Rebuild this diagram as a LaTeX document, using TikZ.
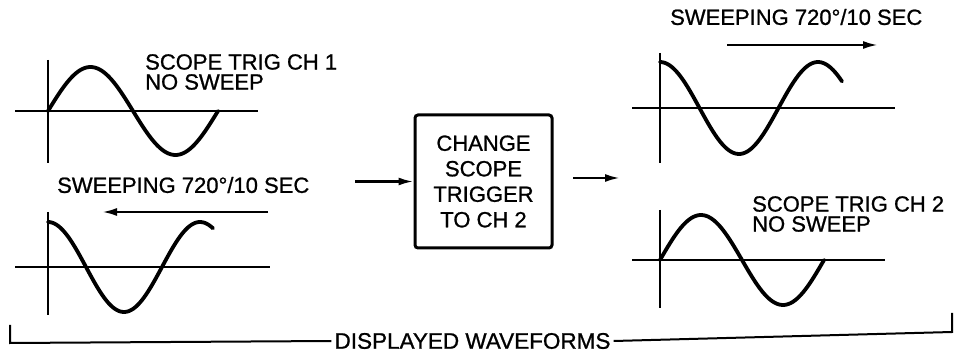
\documentclass[tikz,border=0pt]{standalone}
\usepackage{fontspec}
\setmainfont{Liberation Sans}
\newfontfamily\labelfont{Liberation Sans}[FakeBold=0.9]
\usetikzlibrary{positioning}
\usetikzlibrary{arrows.meta}

\begin{document}
\begin{tikzpicture}[x=1pt, y=-1pt, every node/.style={font=\labelfont\fontsize{22}{20}\selectfont, inner sep=0pt},
    axis/.style={line width=1.6pt},
    wave/.style={line width=3.8pt, line cap=round},
    flow/.style={line width=2.4pt, -{Latex[length=15pt,width=8pt]}}]
            \useasboundingbox (0,0) rectangle (956,355);
            % left: trig ch 1, then sweeping
            \draw[axis] (48,60) -- (48,163) (15,111) -- (258,111);
            \draw[wave] plot[domain=0:170, samples=80, smooth] ({48+\x},{111-44*sin(\x/170*360)});
            \node[anchor=west, align=left] (trig1) at (145,72) {SCOPE TRIG CH 1\\NO SWEEP};
            \draw[axis] (48,212) -- (48,315) (15,267) -- (270,267);
            \draw[wave] plot[domain=0:165, samples=80, smooth] ({48+\x},{267-45*cos(\x/152*360)});
            \node[anchor=west] (sweep1) at (57,185) {SWEEPING 720°/10 SEC};
            \coordinate (s1a) at (268,212);
            \coordinate (s1b) at (102,212);
            \draw[flow] (s1a) -- (s1b);
            % middle box
            \node[draw, line width=3pt, rounded corners=3pt, minimum width=137pt, minimum height=133pt, align=center,
                  font=\labelfont\fontsize{22}{25.5}\selectfont] (chg) at (483.5,181.5) {CHANGE\\SCOPE\\TRIGGER\\TO CH 2};
            \coordinate (in) at (355,181.5);
            \coordinate (outa) at (573,178);
            \coordinate (outb) at (620,178);
            \draw[flow] (in) -- (chg.west);
            \draw[flow] (outa) -- (outb);
            % right: sweeping, then trig ch 2
            \node[anchor=west] (sweep2) at (670,17) {SWEEPING 720°/10 SEC};
            \coordinate (s2a) at (727,45);
            \coordinate (s2b) at (878,45);
            \draw[flow] (s2a) -- (s2b);
            \draw[axis] (660,53) -- (660,163) (632,108) -- (895,108);
            \draw[wave] plot[domain=0:182, samples=80, smooth] ({660+\x},{108-46*cos(\x/158*360)});
            \draw[axis] (660,210) -- (660,308) (632,260) -- (885,260);
            \draw[wave] plot[domain=0:164, samples=80, smooth] ({660+\x},{260-45*sin(\x/164*360)});
            \node[anchor=west, align=left] (trig2) at (752,214) {SCOPE TRIG CH 2\\NO SWEEP};
            % bracket
            \node[inner xsep=3pt, font=\labelfont\fontsize{22.5}{26}\selectfont] (disp) at (472.5,341) {DISPLAYED WAVEFORMS};
            \coordinate (bl) at (10,325);
            \coordinate (blc) at (10,343);
            \coordinate (brc) at (952,332);
            \coordinate (br) at (952,313);
            \draw[line width=2pt] (bl) -- (blc) -- (disp.west);
            \draw[line width=2pt] (disp.east) -- (brc) -- (br);
        \end{tikzpicture}
\end{document}
